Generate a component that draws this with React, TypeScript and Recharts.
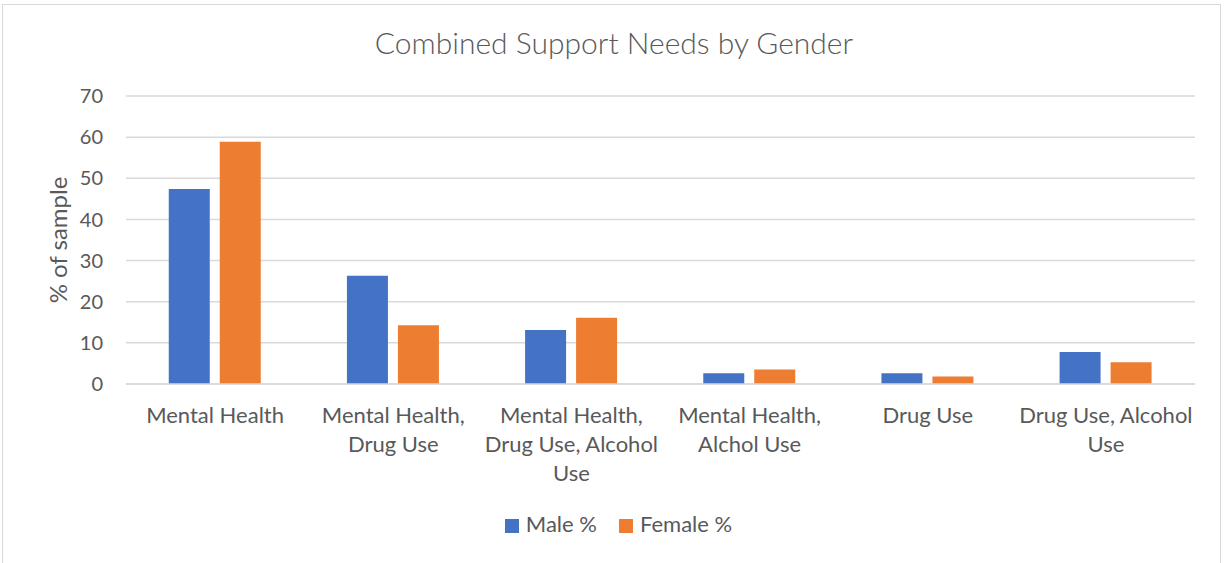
import { Bar, BarChart, CartesianGrid, Legend, XAxis, YAxis } from 'recharts'

const categories = [
  'Mental Health',
  'Mental Health, Drug Use',
  'Mental Health, Drug Use, Alcohol Use',
  'Mental Health, Alchol Use',
  'Drug Use',
  'Drug Use, Alcohol Use',
]

// How the category labels wrap under the axis
const tickLines = [
  ['Mental Health'],
  ['Mental Health,', 'Drug Use'],
  ['Mental Health,', 'Drug Use, Alcohol', 'Use'],
  ['Mental Health,', 'Alchol Use'],
  ['Drug Use'],
  ['Drug Use, Alcohol', 'Use'],
]

const maleValues = [47.4, 26.3, 13.1, 2.6, 2.6, 7.8]
const femaleValues = [58.9, 14.3, 16.1, 3.5, 1.8, 5.3]
const yTicks = [0, 10, 20, 30, 40, 50, 60, 70]
const seriesOrder = ['Male %', 'Female %']

const FONT = 'Lato, "Open Sans", sans-serif'
const TEXT = '#595959'
const MALE = '#4472C4'
const FEMALE = '#ED7D31'

const chartData = categories.map((c, i) => ({
  name: c,
  male: maleValues[i],
  female: femaleValues[i],
}))

function CategoryTick({ x, y, index }: any) {
  const lines = tickLines[index] ?? []
  return (
    <text x={x} y={y} textAnchor="middle" fill={TEXT} fontSize={22} fontFamily={FONT}>
      {lines.map((line, i) => (
        <tspan key={i} x={x} dy={i === 0 ? 31 : 29}>
          {line}
        </tspan>
      ))}
    </text>
  )
}

function AxisTitle({ viewBox }: any) {
  const cy = viewBox.y + viewBox.height / 2
  return (
    <text
      x={57}
      y={cy}
      transform={`rotate(-90, 57, ${cy})`}
      textAnchor="middle"
      dominantBaseline="central"
      fill={TEXT}
      fontSize={24}
      fontFamily={FONT}
    >
      % of sample
    </text>
  )
}

export default function App() {
  return (
    <div style={{ position: 'absolute', left: 0, top: 0, width: 1224, height: 563, background: '#fff' }}>
      <div
        style={{
          position: 'absolute',
          left: 2,
          top: 4,
          width: 1219,
          height: 570,
          border: '1px solid #d9d9d9',
          boxSizing: 'border-box',
        }}
      />
      <div
        style={{
          position: 'absolute',
          left: 0,
          top: 24,
          width: 1228,
          textAlign: 'center',
          fontFamily: FONT,
          fontWeight: 300,
          fontSize: 30,
          color: TEXT,
        }}
      >
        Combined Support Needs by Gender
      </div>
      <div style={{ position: 'absolute', left: 0, top: 0 }}>
        <BarChart
          width={1224}
          height={563}
          data={chartData}
          margin={{ top: 96, right: 29, bottom: 0, left: 0 }}
          barCategoryGap="24%"
          barGap={10}
        >
          <CartesianGrid vertical={false} stroke="#d9d9d9" strokeWidth={1.5} />
          <XAxis
            dataKey="name"
            axisLine={{ stroke: '#d9d9d9', strokeWidth: 1.5 }}
            tickLine={false}
            tick={<CategoryTick />}
            height={152}
            interval={0}
          />
          <YAxis
            width={126}
            domain={[0, 70]}
            ticks={yTicks}
            axisLine={false}
            tickLine={false}
            tickSize={0}
            tickMargin={23}
            tick={{ fill: TEXT, fontSize: 20, fontFamily: FONT }}
            label={<AxisTitle />}
          />
          <Legend
            verticalAlign="bottom"
            iconType="square"
            iconSize={14}
            itemSorter={(item: any) => seriesOrder.indexOf(item.value)}
            wrapperStyle={{ fontFamily: FONT, fontSize: 22, bottom: 26, left: 32 }}
            formatter={(value: string) => (
              <span style={{ color: TEXT, marginLeft: 3, marginRight: 12 }}>{value}</span>
            )}
          />
          <Bar dataKey="male" name="Male %" fill={MALE} isAnimationActive={false} />
          <Bar dataKey="female" name="Female %" fill={FEMALE} isAnimationActive={false} />
        </BarChart>
      </div>
    </div>
  )
}
